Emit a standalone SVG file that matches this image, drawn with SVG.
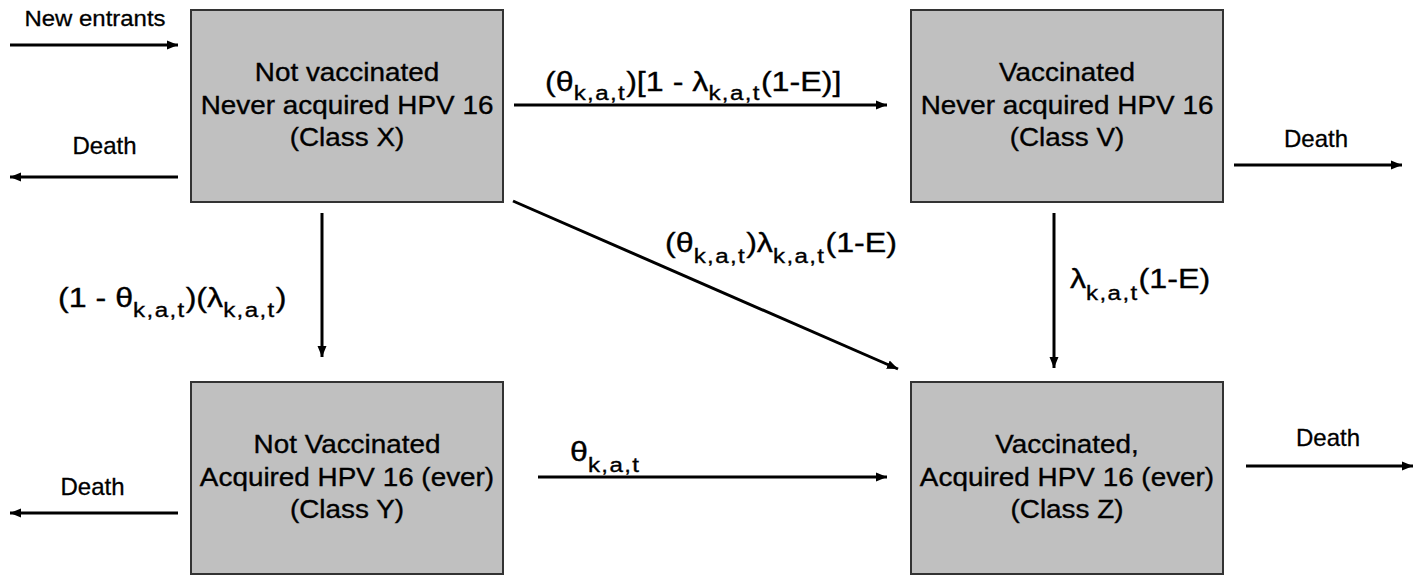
<svg xmlns="http://www.w3.org/2000/svg" width="1424" height="575" viewBox="0 0 1424 575">
<defs>
<style>
.box{fill:#c0c0c0;stroke:#333;stroke-width:2}
.bt{font-family:"Liberation Sans",Arial,sans-serif;font-size:25px;fill:#000;stroke:#000;stroke-width:0.35;text-anchor:middle}
.sm{font-family:"Liberation Sans",Arial,sans-serif;font-size:24px;fill:#000;stroke:#000;stroke-width:0.3;text-anchor:middle}
.fm{font-family:"Liberation Sans",Arial,sans-serif;font-size:28px;fill:#000;stroke:#000;stroke-width:0.35}
.sub{font-size:21px;letter-spacing:1.2px}
.ar{stroke:#000;stroke-width:3;fill:none;marker-end:url(#ah)}
</style>
<marker id="ah" markerUnits="userSpaceOnUse" markerWidth="12" markerHeight="10" refX="11" refY="5" orient="auto">
<path d="M0,0.5 L11,5 L0,9.5 z" fill="#000"/>
</marker>
</defs>
<rect width="1424" height="575" fill="#fff"/>

<g id="nodeX">
<rect class="box" x="191" y="10" width="312" height="192"/>
<g transform="translate(347,0) scale(1.115,1)">
<text class="bt" x="0" y="81">Not vaccinated</text>
<text class="bt" x="0" y="114">Never acquired HPV 16</text>
<text class="bt" x="0" y="146">(Class X)</text>
</g>
</g>

<g id="nodeV">
<rect class="box" x="911" y="10" width="312" height="192"/>
<g transform="translate(1067,0) scale(1.115,1)">
<text class="bt" x="0" y="81">Vaccinated</text>
<text class="bt" x="0" y="114">Never acquired HPV 16</text>
<text class="bt" x="0" y="146">(Class V)</text>
</g>
</g>

<g id="nodeY">
<rect class="box" x="191" y="382" width="312" height="192"/>
<g transform="translate(347,0) scale(1.115,1)">
<text class="bt" x="0" y="453">Not Vaccinated</text>
<text class="bt" x="0" y="486">Acquired HPV 16 (ever)</text>
<text class="bt" x="0" y="518">(Class Y)</text>
</g>
</g>

<g id="nodeZ">
<rect class="box" x="911" y="382" width="312" height="192"/>
<g transform="translate(1067,0) scale(1.115,1)">
<text class="bt" x="0" y="453">Vaccinated,</text>
<text class="bt" x="0" y="486">Acquired HPV 16 (ever)</text>
<text class="bt" x="0" y="518">(Class Z)</text>
</g>
</g>

<g id="connectors">
<line class="ar" x1="10" y1="45" x2="178" y2="45"/>
<line class="ar" x1="178" y1="177" x2="10" y2="177"/>
<line class="ar" x1="514" y1="105" x2="887" y2="105"/>
<line class="ar" x1="1234" y1="165" x2="1402" y2="165"/>
<line class="ar" x1="322" y1="213" x2="322" y2="357"/>
<line class="ar" x1="513" y1="201" x2="898" y2="369"/>
<line class="ar" x1="1054" y1="213" x2="1054" y2="368"/>
<line class="ar" x1="178" y1="513" x2="10" y2="513"/>
<line class="ar" x1="538" y1="477" x2="887" y2="477"/>
<line class="ar" x1="1246" y1="466" x2="1413" y2="466"/>

<text class="sm" x="95" y="26" style="font-size:22px" textLength="141" lengthAdjust="spacingAndGlyphs">New entrants</text>
<text class="sm" x="104.5" y="154">Death</text>
<text class="sm" x="1316" y="147">Death</text>
<text class="sm" x="92.5" y="495">Death</text>
<text class="sm" x="1328" y="446">Death</text>

<text class="fm" transform="translate(545,91) scale(1.15,1)">(θ<tspan class="sub" dy="9">k,a,t</tspan><tspan dy="-9">)[1 - λ</tspan><tspan class="sub" dy="9">k,a,t</tspan><tspan dy="-9">(1-E)]</tspan></text>
<text class="fm" transform="translate(58,307) scale(1.15,1)">(1 - θ<tspan class="sub" dy="10">k,a,t</tspan><tspan dy="-10">)(λ</tspan><tspan class="sub" dy="10">k,a,t</tspan><tspan dy="-10">)</tspan></text>
<text class="fm" transform="translate(665,252) scale(1.15,1)">(θ<tspan class="sub" dy="11">k,a,t</tspan><tspan dy="-11">)λ</tspan><tspan class="sub" dy="11">k,a,t</tspan><tspan dy="-11">(1-E)</tspan></text>
<text class="fm" transform="translate(1070,288) scale(1.15,1)">λ<tspan class="sub" dy="12">k,a,t</tspan><tspan dy="-12">(1-E)</tspan></text>
<text class="fm" transform="translate(570,461) scale(1.15,1)">θ<tspan class="sub" dy="11">k,a,t</tspan></text>
</g>
</svg>
